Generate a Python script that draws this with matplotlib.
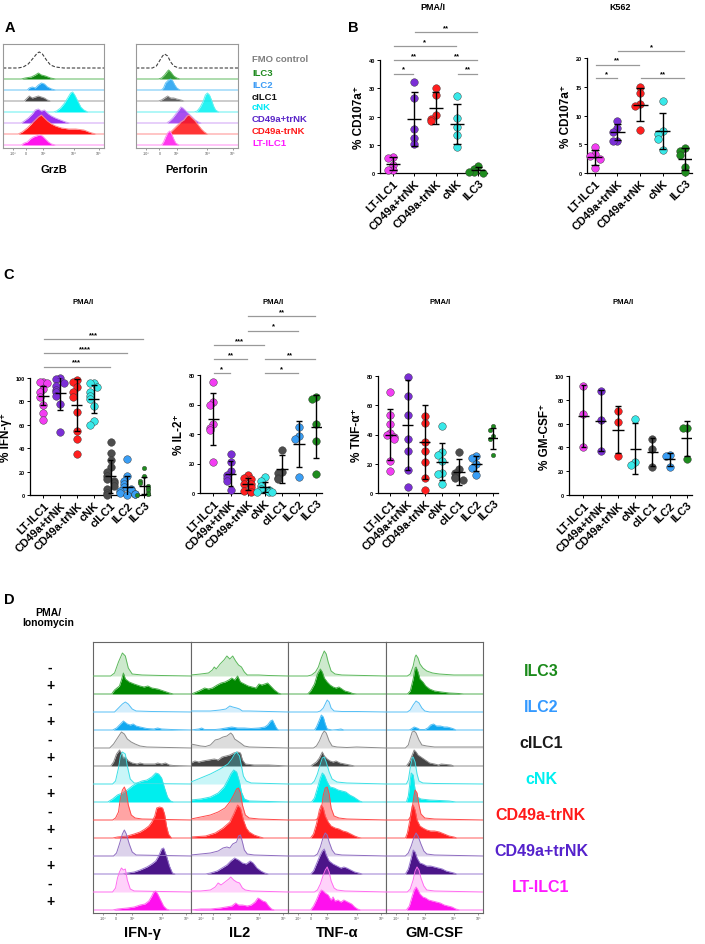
import matplotlib
matplotlib.use("Agg")
import matplotlib.pyplot as plt
import numpy as np

W, H = 705, 945

plt.rcParams["font.family"] = ["Liberation Sans", "DejaVu Sans"]
plt.rcParams["font.weight"] = "bold"
plt.rcParams["axes.labelweight"] = "bold"

# ---------------------------------------------------------------- panel A
# histogram knots: (position on display axis in %, height in px)
A_ROWS = ["FMO control", "ILC3", "ILC2", "cILC1", "cNK", "CD49a+trNK", "CD49a-trNK", "LT-ILC1"]
A_GRZB = {
    "FMO control": [(0, 0), (15, 0), (20, 1), (25, 4), (30, 10), (34, 15), (36, 16), (39, 14), (43, 8), (47, 3), (52, 1), (60, 0), (100, 0)],
    "ILC3": [(0, 0), (18, 0), (22, 1), (28, 2), (32, 4), (35, 6), (38, 4), (42, 3), (47, 1), (52, 0), (100, 0)],
    "ILC2": [(0, 0), (24, 0), (26, 2), (29, 3), (32, 2), (35, 5), (38, 7), (41, 6), (44, 3), (48, 1), (52, 0), (100, 0)],
    "cILC1": [(0, 0), (21, 0), (24, 3), (26, 5), (29, 3), (32, 4), (35, 5), (38, 4), (41, 3), (44, 1), (47, 0), (100, 0)],
    "cNK": [(0, 0), (50, 0), (53, 1), (57, 4), (61, 9), (64, 14), (67, 19), (69, 20), (71, 17), (74, 11), (77, 5), (80, 2), (84, 0), (100, 0)],
    "CD49a+trNK": [(0, 0), (18, 0), (21, 2), (25, 5), (29, 9), (32, 13), (35, 14), (38, 12), (41, 13), (45, 9), (48, 7), (52, 5), (57, 3), (62, 1), (66, 0), (100, 0)],
    "CD49a-trNK": [(0, 0), (15, 0), (19, 2), (24, 6), (28, 10), (32, 14), (35, 17), (38, 19), (41, 16), (44, 13), (48, 10), (52, 8), (58, 6), (65, 5), (72, 5), (80, 4), (85, 2), (88, 1), (92, 0), (100, 0)],
    "LT-ILC1": [(0, 0), (18, 0), (21, 2), (24, 3), (27, 6), (30, 8), (33, 9), (36, 10), (39, 9), (42, 6), (45, 3), (48, 1), (52, 0), (100, 0)],
}
A_PERFORIN = {
    "FMO control": [(0, 0), (16, 0), (20, 2), (23, 7), (26, 12), (28, 14), (31, 12), (34, 6), (37, 2), (42, 0), (100, 0)],
    "ILC3": [(0, 0), (22, 0), (25, 1), (28, 4), (31, 8), (32, 9), (34, 7), (37, 3), (40, 1), (43, 0), (100, 0)],
    "ILC2": [(0, 0), (25, 0), (27, 2), (29, 7), (32, 10), (34, 11), (36, 9), (38, 5), (40, 2), (43, 0), (100, 0)],
    "cILC1": [(0, 0), (22, 0), (25, 1), (28, 3), (31, 5), (34, 3), (37, 3), (40, 2), (44, 1), (47, 0), (100, 0)],
    "cNK": [(0, 0), (57, 0), (60, 1), (63, 5), (66, 11), (68, 17), (70, 19), (72, 17), (74, 12), (76, 6), (78, 2), (81, 0), (100, 0)],
    "CD49a+trNK": [(0, 0), (30, 0), (33, 2), (36, 5), (39, 9), (42, 13), (44, 16), (46, 15), (49, 12), (52, 9), (55, 6), (58, 3), (61, 1), (64, 0), (100, 0)],
    "CD49a-trNK": [(0, 0), (32, 0), (35, 3), (38, 6), (41, 9), (44, 12), (47, 14), (50, 18), (52, 19), (55, 16), (58, 13), (61, 9), (64, 5), (67, 2), (70, 0), (100, 0)],
    "LT-ILC1": [(0, 0), (25, 0), (27, 3), (29, 8), (31, 12), (33, 14), (35, 11), (37, 6), (39, 2), (42, 0), (100, 0)],
}
A_FILL = {"ILC3": "#0f870f", "ILC2": "#1c9ff0", "cILC1": "#454545", "cNK": "#00f2f2",
          "CD49a+trNK": "#9a30ee", "CD49a-trNK": "#ff1212", "LT-ILC1": "#ff14ec"}
A_LINE = {"ILC3": "#5cb85c", "ILC2": "#63c3f5", "cILC1": "#9a9a9a", "cNK": "#60f0f0",
          "CD49a+trNK": "#cfa0f5", "CD49a-trNK": "#ff8a8a", "LT-ILC1": "#ff8af2"}
A_LEGEND_COLORS = {"FMO control": "#7f7f7f", "ILC3": "#1e8a1e", "ILC2": "#3d9cf5", "cILC1": "#111111",
                   "cNK": "#00e8f5", "CD49a+trNK": "#5a25c8", "CD49a-trNK": "#ff1a1a", "LT-ILC1": "#ff1aff"}

# ---------------------------------------------------------------- panels B / C
B_CATS = ["LT-ILC1", "CD49a+trNK", "CD49a-trNK", "cNK", "ILC3"]
C_CATS = ["LT-ILC1", "CD49a+trNK", "CD49a-trNK", "cNK", "cILC1", "ILC2", "ILC3"]
DOT_COLORS = {"LT-ILC1": "#f23df2", "CD49a+trNK": "#7b2fd6", "CD49a-trNK": "#ff1f1f", "cNK": "#38e8e8",
              "cILC1": "#4d4d4d", "ILC2": "#3a9ef5", "ILC3": "#1e8c1e"}

B_PMA_PTS = [[5.6, 5.4, 3.0, 1.0, 1.2], [32.3, 26.4, 15.4, 12.3, 10.1], [30, 27.5, 20.5, 19, 18.5],
             [27.3, 19.5, 16.4, 13.5, 9.2], [2.6, 1.5, 0.2, 0.1, 0.3]]
B_PMA_MEAN = [3.3, 19.2, 23.0, 17.4, 0.9]
B_PMA_SD = [2.2, 9.5, 5.5, 7.0, 1.1]
B_PMA_SIG = [(0, 1, "*", 0), (3, 4, "**", 0), (0, 2, "**", 1), (2, 4, "**", 1), (0, 3, "*", 2), (1, 4, "**", 3)]

B_K562_PTS = [[4.5, 3.3, 2.9, 2.5, 0.8], [9.0, 7.8, 7.2, 5.5, 5.6], [15.0, 14.0, 12.0, 11.6, 7.4],
              [12.5, 7.3, 6.8, 6.0, 4.0], [4.3, 3.8, 3.2, 1.0, 0.1]]
B_K562_MEAN = [2.7, 7.2, 11.9, 7.3, 2.4]
B_K562_SD = [1.3, 1.4, 2.9, 3.2, 1.9]
B_K562_SIG = [(0, 1, "*", 0), (2, 4, "**", 0), (0, 2, "**", 1), (1, 4, "*", 2)]

IFN_PTS = [[97, 97, 96, 91, 88, 84, 77, 70, 64], [100, 99, 96, 93, 90, 88, 85, 78, 54],
           [98, 97, 92, 88, 84, 71, 55, 48, 35], [96, 96, 92, 88, 85, 82, 76, 63, 60],
           [45, 36, 30, 24, 20, 16, 14, 12, 10, 8, 5, 2, 0], [31, 16, 12, 9, 7, 5, 4, 3, 2, 1, 0.5, 0],
           [23, 16, 12, 10, 8, 6, 4, 2, 1, 0]]
IFN_MEAN = [85, 87, 77, 82, 16, 7, 8]
IFN_SD = [8, 14, 22, 12, 14, 9, 7]
IFN_SIG = [(0, 4, "***", 0), (0, 5, "****", 1), (0, 6, "***", 2)]

IL2_PTS = [[75, 62, 60, 47, 44, 43, 21], [26.5, 21, 15, 12, 10, 8, 2], [12, 10, 9.5, 6, 6, 4, 1.5, 1],
           [11, 8, 5, 3, 2, 1, 0.5, 0.5], [29, 14.5, 13.5, 10, 9.5], [45, 38.5, 36.5, 11], [65, 64, 47, 35, 13]]
IL2_MEAN = [50, 13, 6, 4, 16, 33, 45]
IL2_SD = [17.5, 8.5, 4, 3.5, 9.5, 15.5, 21.5]
IL2_SIG = [(0, 1, "*", 0), (3, 5, "*", 0), (0, 2, "**", 1), (3, 6, "**", 1), (0, 3, "***", 2),
           (2, 5, "*", 3), (2, 6, "**", 4)]

TNF_PTS = [[69, 53, 47, 41, 40, 38, 37, 22, 15], [79, 66, 53, 37, 29, 15.5, 4], [52.5, 48, 35, 28.5, 21, 10, 2],
           [46, 28, 26, 22, 14, 13, 6], [28, 16.5, 14, 11, 10, 9], [25, 24, 20, 17, 12], [46, 43, 39, 37, 26]]
TNF_MEAN = [40, 46.5, 35, 21.5, 14.5, 20, 37.5]
TNF_SD = [17.5, 30.5, 25.5, 12.5, 9, 5, 7.2]

GM_PTS = [[91.5, 68, 40], [87.5, 63, 37], [71, 61, 33], [64, 27.5, 25], [47, 38.5, 23.5], [33.5, 33, 23.5], [56, 56, 30]]
GM_MEAN = [66.5, 62.5, 55, 39, 36, 30, 47.5]
GM_SD = [26, 25.5, 19.5, 21.5, 11.5, 5.5, 15]

# ---------------------------------------------------------------- panel D
D_CELLS = ["ILC3", "ILC2", "cILC1", "cNK", "CD49a-trNK", "CD49a+trNK", "LT-ILC1"]
D_MARKERS = ["IFN-γ", "IL2", "TNF-α", "GM-CSF"]
# (unstimulated "-", PMA/ionomycin "+") histograms per cell type
D_IFNG = {
    "ILC3": ([(0, 0), (18, 0), (22, 3), (26, 14), (30, 23), (33, 20), (36, 8), (40, 2), (50, 1), (70, 0.5), (100, 0)],
             [(0, 0), (19, 0), (22, 4), (27, 8), (29, 14), (31, 21), (33, 15), (37, 12), (42, 10), (48, 8), (52, 7), (56, 8), (60, 6), (66, 5), (72, 3), (78, 1), (82, 0), (100, 0)]),
    "ILC2": ([(0, 0), (22, 0), (26, 4), (30, 8), (33, 10), (36, 8), (40, 3), (44, 1), (60, 0.5), (100, 0)],
             [(0, 0), (20, 0), (24, 2), (28, 6), (31, 9), (35, 6), (38, 5), (41, 6), (44, 4), (48, 3), (55, 1.5), (62, 1), (66, 2), (70, 1), (80, 0.5), (100, 0)]),
    "cILC1": ([(0, 0), (17, 0), (21, 4), (25, 10), (29, 16), (32, 14), (35, 9), (39, 6), (43, 4), (48, 2), (55, 1), (100, 0)],
              [(0, 0), (18, 0), (21, 4), (24, 12), (27, 16), (29, 13), (31, 8), (33, 9), (36, 5), (40, 3), (45, 2), (48, 3), (52, 2), (58, 2), (63, 2), (66, 3), (70, 2), (74, 3), (78, 1), (82, 0.5), (100, 0)]),
    "cNK": ([(0, 0), (20, 0), (23, 3), (26, 16), (28, 28), (30, 32), (33, 30), (35, 18), (38, 5), (42, 1), (50, 0.5), (100, 0)],
            [(0, 0), (15, 0), (20, 3), (25, 7), (30, 9), (35, 12), (40, 16), (45, 19), (50, 21), (55, 22), (60, 25), (64, 29), (67, 28), (70, 24), (73, 14), (76, 5), (79, 1), (82, 0), (100, 0)]),
    "CD49a-trNK": ([(0, 0), (20, 0), (23, 2), (26, 8), (28, 22), (30, 30), (32, 33), (34, 28), (36, 15), (39, 5), (43, 2), (50, 1), (100, 0)],
                   [(0, 0), (20, 0), (25, 1), (35, 2), (42, 4), (48, 6), (53, 9), (57, 12), (60, 16), (63, 22), (65, 30), (68, 31), (71, 30), (73, 24), (75, 12), (77, 4), (80, 0), (100, 0)]),
    "CD49a+trNK": ([(0, 0), (21, 0), (24, 3), (27, 12), (30, 22), (32, 26), (34, 22), (37, 12), (40, 4), (44, 1), (100, 0)],
                   [(0, 0), (30, 0), (35, 1), (42, 2), (48, 4), (55, 7), (60, 10), (64, 13), (67, 18), (70, 25), (72, 26), (75, 18), (78, 8), (81, 1), (84, 0), (100, 0)]),
    "LT-ILC1": ([(0, 0), (20, 0), (23, 4), (25, 14), (27, 20), (29, 24), (31, 22), (33, 23), (35, 12), (38, 3), (42, 1), (100, 0)],
                [(0, 0), (20, 0), (25, 1), (35, 2), (42, 3), (48, 5), (53, 6), (57, 9), (60, 14), (62, 18), (64, 19), (66, 16), (69, 10), (72, 4), (75, 1), (78, 0), (100, 0)]),
}
D_IL2 = {
    "ILC3": ([(0, 1), (10, 2), (18, 3), (22, 6), (24, 9), (26, 7), (30, 12), (34, 16), (37, 20), (40, 17), (43, 20), (46, 15), (49, 11), (52, 9), (55, 4), (58, 1), (70, 1), (80, 0.5), (100, 0)],
             [(0, 0), (3, 1), (8, 3), (14, 6), (18, 5), (22, 6), (27, 9), (31, 11), (35, 12), (39, 14), (42, 16), (45, 14), (48, 18), (51, 12), (55, 10), (59, 8), (63, 7), (67, 6), (70, 10), (73, 9), (76, 10), (79, 11), (82, 8), (86, 4), (90, 1), (93, 0), (100, 0)]),
    "ILC2": ([(0, 1), (20, 1), (30, 2), (36, 3), (40, 6), (43, 5), (47, 4), (50, 3), (53, 1), (60, 1), (100, 0)],
             [(0, 0), (8, 1), (11, 2), (14, 0.5), (25, 0.5), (30, 1), (36, 2), (42, 3), (48, 2), (55, 2), (62, 1.5), (70, 2), (76, 3), (79, 5), (82, 9), (84, 10), (86, 6), (88, 2), (90, 0), (100, 0)]),
    "cILC1": ([(0, 4), (5, 3), (10, 2), (15, 1.5), (20, 3), (25, 8), (29, 9), (33, 11), (37, 12), (41, 15), (43, 13), (45, 9), (48, 7), (51, 5), (55, 2), (60, 1), (100, 0)],
              [(0, 3), (4, 5), (8, 4), (12, 5), (18, 6), (24, 7), (28, 6), (32, 9), (36, 10), (40, 11), (44, 13), (48, 14), (51, 13), (53, 6), (56, 2), (65, 1), (80, 1), (100, 0)]),
    "cNK": ([(0, 2), (10, 6), (20, 10), (30, 15), (38, 20), (42, 25), (45, 30), (47, 32), (50, 28), (52, 18), (54, 8), (57, 3), (62, 1), (100, 0)],
            [(0, 2), (10, 3), (20, 5), (28, 9), (34, 15), (38, 22), (41, 28), (44, 32), (47, 30), (50, 20), (52, 10), (55, 3), (60, 1), (100, 0)]),
    "CD49a-trNK": ([(0, 1), (10, 3), (20, 5), (28, 8), (35, 12), (40, 18), (44, 25), (47, 31), (49, 32), (51, 27), (53, 15), (56, 5), (60, 2), (70, 1), (100, 0)],
                   [(0, 1), (15, 2), (25, 5), (33, 10), (40, 16), (44, 24), (48, 33), (51, 30), (54, 18), (57, 10), (60, 6), (65, 3), (71, 1), (75, 0), (100, 0)]),
    "CD49a+trNK": ([(0, 1), (10, 2), (20, 3), (28, 5), (33, 8), (37, 9), (40, 8), (43, 12), (47, 14), (49, 20), (51, 21), (53, 14), (55, 6), (58, 2), (65, 1), (100, 0)],
                   [(0, 0), (15, 0), (20, 1), (27, 3), (32, 6), (37, 9), (41, 13), (45, 16), (49, 14), (53, 11), (57, 10), (61, 13), (64, 11), (68, 6), (72, 3), (76, 1), (80, 0), (100, 0)]),
    "LT-ILC1": ([(0, 1), (10, 1), (20, 2), (25, 5), (28, 9), (31, 7), (35, 10), (39, 13), (41, 15), (44, 12), (47, 10), (50, 9), (53, 4), (56, 2), (62, 1), (100, 0)],
                [(0, 0), (10, 1), (20, 1), (30, 2), (36, 3), (42, 4), (46, 7), (49, 5), (53, 5), (58, 4), (62, 5), (66, 8), (69, 12), (71, 11), (74, 9), (77, 8), (80, 4), (83, 1), (86, 0), (100, 0)]),
}
D_TNFA = {
    "ILC3": ([(0, 0), (20, 0), (24, 1), (28, 4), (31, 9), (34, 18), (37, 25), (39, 22), (41, 14), (44, 5), (48, 2), (55, 1), (100, 0)],
             [(0, 0), (20, 0), (23, 3), (27, 10), (30, 20), (33, 25), (35, 22), (37, 16), (40, 12), (43, 9), (46, 7), (49, 6), (52, 7), (55, 5), (58, 3), (62, 2), (66, 0.5), (70, 0), (100, 0)]),
    "ILC2": ([(0, 0), (30, 0), (33, 1), (36, 4), (38, 8), (40, 12), (42, 10), (44, 4), (47, 1), (55, 0.5), (70, 0.5), (100, 0)],
             [(0, 0), (27, 0), (29, 3), (32, 10), (34, 15), (36, 13), (38, 6), (40, 1), (45, 0), (51, 0.5), (54, 1), (57, 0), (100, 0)]),
    "cILC1": ([(0, 0), (26, 0), (29, 2), (32, 7), (35, 14), (37, 17), (39, 15), (42, 7), (45, 2), (50, 1), (60, 0.5), (70, 1), (100, 0)],
              [(0, 0), (23, 0), (26, 2), (29, 4), (32, 8), (35, 14), (37, 10), (40, 7), (43, 5), (46, 4), (49, 5), (53, 3), (58, 2), (63, 1), (68, 0), (100, 0)]),
    "cNK": ([(0, 0), (24, 0), (27, 3), (30, 10), (33, 20), (35, 26), (37, 27), (39, 22), (42, 12), (45, 5), (50, 2), (60, 1), (100, 0)],
            [(0, 0), (24, 0), (27, 4), (30, 14), (33, 24), (35, 29), (37, 27), (40, 20), (43, 15), (47, 14), (51, 12), (55, 11), (59, 10), (63, 7), (67, 5), (70, 3), (73, 1), (76, 0), (100, 0)]),
    "CD49a-trNK": ([(0, 0), (28, 0), (31, 2), (34, 10), (36, 25), (38, 32), (40, 33), (42, 26), (44, 12), (47, 4), (52, 2), (60, 1), (100, 0)],
                   [(0, 0), (23, 0), (26, 4), (29, 14), (32, 28), (34, 33), (36, 30), (38, 22), (41, 16), (44, 12), (48, 10), (52, 9), (56, 7), (60, 6), (64, 4), (68, 2), (72, 0.5), (75, 0), (100, 0)]),
    "CD49a+trNK": ([(0, 0), (27, 0), (30, 2), (33, 9), (36, 19), (38, 23), (40, 21), (42, 14), (45, 6), (48, 2), (55, 1), (100, 0)],
                   [(0, 0), (23, 0), (26, 3), (29, 10), (32, 17), (35, 23), (37, 25), (39, 19), (42, 13), (46, 10), (50, 8), (54, 6), (57, 7), (60, 6), (64, 4), (68, 2), (72, 1), (76, 0), (100, 0)]),
    "LT-ILC1": ([(0, 0), (27, 0), (30, 2), (33, 8), (36, 17), (38, 22), (40, 25), (42, 20), (44, 11), (47, 4), (50, 2), (58, 1), (100, 0)],
                [(0, 0), (23, 0), (26, 4), (29, 10), (32, 17), (34, 20), (36, 19), (38, 17), (41, 15), (44, 10), (46, 13), (48, 9), (51, 10), (54, 8), (57, 10), (61, 8), (65, 6), (68, 3), (71, 1), (74, 0), (100, 0)]),
}
D_GMCSF = {
    "ILC3": ([(0, 0), (22, 0), (25, 2), (28, 10), (30, 19), (31, 21), (33, 18), (35, 12), (38, 8), (42, 5), (48, 3), (55, 2), (70, 1), (100, 1)],
             [(0, 0), (22, 0), (25, 3), (28, 15), (30, 26), (31, 27), (33, 22), (35, 15), (38, 12), (41, 8), (45, 5), (50, 3), (57, 2), (65, 1), (75, 0.5), (80, 0), (100, 0)]),
    "ILC2": ([(0, 0), (22, 0), (25, 2), (28, 7), (31, 11), (34, 9), (37, 4), (40, 1), (45, 0), (100, 0)],
             [(0, 0), (24, 0), (26, 1), (29, 3), (32, 2), (35, 0.5), (40, 0.5), (43, 2), (46, 5), (49, 6), (52, 4), (56, 4), (60, 3), (63, 3), (67, 2), (70, 1), (72, 0), (100, 0)]),
    "cILC1": ([(0, 0), (20, 0), (23, 3), (25, 10), (27, 16), (29, 17), (31, 15), (34, 8), (37, 3), (42, 2), (50, 1), (100, 1)],
              [(0, 0), (21, 0), (24, 4), (27, 11), (29, 16), (31, 14), (33, 11), (36, 9), (39, 7), (42, 5), (45, 3), (50, 2), (54, 1), (57, 2), (62, 1.5), (67, 1), (70, 0), (100, 0)]),
    "cNK": ([(0, 0), (21, 0), (23, 4), (25, 16), (27, 26), (28, 27), (30, 22), (32, 10), (34, 3), (38, 1), (50, 0.5), (100, 0)],
            [(0, 0), (21, 0), (23, 6), (25, 22), (26, 29), (28, 27), (30, 12), (32, 5), (36, 3), (45, 2), (55, 1.5), (65, 1), (72, 0), (100, 0)]),
    "CD49a-trNK": ([(0, 0), (23, 0), (25, 3), (27, 12), (29, 25), (30, 30), (32, 27), (34, 15), (36, 6), (40, 2), (50, 1), (100, 0)],
                   [(0, 0), (20, 0), (22, 5), (25, 20), (27, 32), (28, 33), (30, 28), (32, 18), (35, 12), (38, 10), (42, 8), (46, 7), (50, 7), (55, 6), (60, 4), (65, 2), (70, 1), (73, 0), (100, 0)]),
    "CD49a+trNK": ([(0, 0), (20, 0), (23, 3), (26, 10), (29, 19), (31, 23), (33, 20), (36, 12), (39, 5), (42, 2), (50, 1), (100, 0)],
                   [(0, 0), (20, 0), (23, 5), (26, 16), (28, 24), (30, 22), (32, 16), (35, 11), (38, 10), (42, 8), (46, 8), (50, 7), (54, 6), (58, 5), (62, 3), (66, 2), (70, 1), (73, 0), (100, 0)]),
    "LT-ILC1": ([(0, 0), (22, 0), (25, 3), (28, 12), (30, 21), (32, 25), (34, 22), (36, 14), (39, 6), (42, 2), (50, 1), (100, 0)],
                [(0, 0), (21, 0), (24, 4), (27, 14), (29, 20), (31, 23), (33, 20), (35, 16), (38, 13), (41, 12), (44, 10), (48, 9), (52, 8), (56, 7), (60, 5), (64, 4), (68, 3), (72, 1), (76, 0), (100, 0)]),
}
# neg fill / outline, pos fill / outline
D_STYLE = {
    "ILC3": ("#5cb85c", 0.30, "#008800", "#4fae4f"),
    "ILC2": ("#55bff5", 0.25, "#10a8f0", "#55bff5"),
    "cILC1": ("#8c8c8c", 0.30, "#444444", "#8c8c8c"),
    "cNK": ("#3ee0e6", 0.28, "#00eeee", "#3ee0e6"),
    "CD49a-trNK": ("#ff4a4a", 0.50, "#ff2020", "#ff5a5a"),
    "CD49a+trNK": ("#8e6cc0", 0.30, "#4b1589", "#9a7ad0"),
    "LT-ILC1": ("#ff6cf0", 0.30, "#ff10ee", "#ff6cf0"),
}
D_LABEL_COLORS = {"ILC3": "#1a8a1a", "ILC2": "#3399ff", "cILC1": "#1a1a1a", "cNK": "#00f0f0",
                  "CD49a-trNK": "#ff1a1a", "CD49a+trNK": "#5522cc", "LT-ILC1": "#ff1aff"}

FLOW_TICKS = [10, 23, 40, 70, 95]
FLOW_TICKLABELS = ["-10³", "0", "10³", "10⁴", "10⁵"]


def px_axes(fig, x0, y0, x1, y1):
    return fig.add_axes([x0 / W, 1 - y1 / H, (x1 - x0) / W, (y1 - y0) / H])


def fig_text(fig, x, y, s, **kw):
    fig.text(x / W, 1 - y / H, s, **kw)


def flow_axis(ax, ymax, edge="0.45"):
    ax.set_xlim(0, 100)
    ax.set_ylim(0, ymax)
    ax.set_yticks([])
    ax.set_xticks(FLOW_TICKS)
    ax.set_xticklabels(FLOW_TICKLABELS, fontsize=2.6, color="0.3", fontweight="normal")
    minor = [13, 16, 19, 27, 31, 35]
    minor += [40 + 30 * np.log10(k) for k in range(2, 10)]
    minor += [70 + 25 * np.log10(k) for k in range(2, 10)]
    ax.set_xticks(minor, minor=True)
    ax.tick_params(axis="x", which="major", length=1.6, width=0.4, pad=0.6, colors="0.3")
    ax.tick_params(axis="x", which="minor", length=0.9, width=0.3, colors="0.3")
    for s in ax.spines.values():
        s.set_color(edge)
        s.set_linewidth(0.8)


def draw_hist(ax, knots, base, fill, edge, alpha=1.0, z=1.0, ls="-", edge_z=None, lw=0.7):
    x = np.array([k[0] for k in knots], float)
    h = np.array([k[1] for k in knots], float)
    if fill is not None:
        ax.fill_between(x, base, base + h, color=fill, alpha=alpha, lw=0, zorder=z)
    ax.plot(x, base + h, color=edge, lw=lw, ls=ls, zorder=z + 0.05 if edge_z is None else edge_z)


def swarm_offsets(vals, tol, step=0.22):
    pattern = [0, -1, 1, -2, 2]
    offs, placed = [], []
    for v in vals:
        n = sum(1 for p in placed if abs(p - v) < tol)
        offs.append(pattern[n % len(pattern)] * step)
        placed.append(v)
    return offs


def dot_plot(ax, cats, pts, means, sds, ymax, yticks, ylabel, xlim, small=()):
    for i, (cat, vals, m, s) in enumerate(zip(cats, pts, means, sds)):
        offs = swarm_offsets(vals, tol=ymax * 0.045)
        size = 10 if cat in small else 30
        ax.scatter(np.array(offs) + i, vals, s=size, color=DOT_COLORS[cat], edgecolors="#333333",
                   linewidths=0.3, zorder=3, clip_on=False)
        ax.vlines(i, m - s, m + s, color="k", lw=1.0, zorder=4)
        ax.hlines([m - s, m + s], i - 0.17, i + 0.17, color="k", lw=1.0, zorder=4)
        ax.hlines(m, i - 0.33, i + 0.33, color="k", lw=1.0, zorder=4)
    ax.set_xlim(*xlim)
    ax.set_ylim(0, ymax)
    ax.set_yticks(yticks)
    ax.spines[["top", "right"]].set_visible(False)
    for s in ("left", "bottom"):
        ax.spines[s].set_linewidth(0.9)
    ax.tick_params(axis="y", labelsize=4, width=0.7, length=2.5, pad=1)
    ax.set_xticks(range(len(cats)))
    ax.set_xticklabels(cats, rotation=45, ha="right", rotation_mode="anchor", fontsize=8, fontweight="bold")
    ax.tick_params(axis="x", length=2.5, width=0.7, pad=1)
    ax.set_ylabel(ylabel, fontsize=8.5, fontweight="bold", labelpad=3)


def sig_bars(ax, comps, ymax, base, step):
    for i, j, label, level in comps:
        y = ymax * (base + step * level)
        ax.plot([i + 0.04, j - 0.04], [y, y], color="0.6", lw=0.9, clip_on=False)
        ax.text((i + j) / 2, y + ymax * 0.008, label, ha="center", va="bottom", fontsize=5.5,
                fontweight="bold", clip_on=False)


fig = plt.figure(figsize=(W / 100, H / 100), dpi=100, facecolor="white")

# ---------------------------------------------------------------- A
fig_text(fig, 10, 28, "A", fontsize=10.5, fontweight="bold", va="center", ha="center")
A_TOP, A_BOT = 45, 149
for data, (x0, x1), name, falpha in ((A_GRZB, (3, 104), "GrzB", 1.0), (A_PERFORIN, (136, 238), "Perforin", 0.85)):
    ax = px_axes(fig, x0, A_TOP, x1, A_BOT)
    flow_axis(ax, A_BOT - A_TOP, edge="0.6")
    for k, row in enumerate(A_ROWS):
        base = A_BOT - (69 + 11 * k)
        if row == "FMO control":
            draw_hist(ax, data[row], base, None, "0.25", ls=(0, (3, 1.6)), lw=0.8, z=1)
        else:
            draw_hist(ax, data[row], base, A_FILL[row], A_LINE[row], alpha=falpha, z=1 + k * 0.1)
    fig_text(fig, (x0 + x1) / 2, 170, name, fontsize=8, fontweight="bold", ha="center", va="center")
for k, row in enumerate(A_ROWS):
    fig_text(fig, 252, [60, 73, 86, 98, 108, 119, 132, 144][k], row, fontsize=6.8, fontweight="bold",
             color=A_LEGEND_COLORS[row], ha="left", va="center")

# ---------------------------------------------------------------- B
fig_text(fig, 353, 28, "B", fontsize=10.5, fontweight="bold", va="center", ha="center")
ax = px_axes(fig, 380, 61, 487, 174)
dot_plot(ax, B_CATS, B_PMA_PTS, B_PMA_MEAN, B_PMA_SD, 40, [0, 10, 20, 30, 40], "% CD107a⁺", (-0.61, 4.41))
sig_bars(ax, B_PMA_SIG, 40, 0.88, 0.122)
fig_text(fig, 433, 8, "PMA/I", fontsize=6.5, fontweight="bold", ha="center", va="center")

ax = px_axes(fig, 587, 59, 692, 174)
dot_plot(ax, B_CATS, B_K562_PTS, B_K562_MEAN, B_K562_SD, 20, [0, 5, 10, 15, 20], "% CD107a⁺", (-0.35, 4.3))
sig_bars(ax, B_K562_SIG, 20, 0.825, 0.118)
fig_text(fig, 620, 8, "K562", fontsize=6.5, fontweight="bold", ha="center", va="center")

# ---------------------------------------------------------------- C
fig_text(fig, 9, 275, "C", fontsize=10.5, fontweight="bold", va="center", ha="center")
c_specs = [
    ((30, 379, 150, 496), IFN_PTS, IFN_MEAN, IFN_SD, 100, range(0, 101, 20), "% IFN-γ⁺", (-0.79, 6.35), 83),
    ((200, 376, 322, 494), IL2_PTS, IL2_MEAN, IL2_SD, 80, range(0, 81, 20), "% IL-2⁺", (-0.78, 6.34), 273),
    ((378, 377, 498, 494), TNF_PTS, TNF_MEAN, TNF_SD, 80, range(0, 81, 20), "% TNF-α⁺", (-0.72, 6.27), 440),
    ((569, 377, 692, 496), GM_PTS, GM_MEAN, GM_SD, 100, range(0, 101, 20), "% GM-CSF⁺", (-0.84, 6.29), 623),
]
c_axes = []
for (box, pts, mean, sd, ymax, yt, lab, xl, tx) in c_specs:
    ax = px_axes(fig, *box)
    small = ("ILC3",) if lab in ("% IFN-γ⁺", "% TNF-α⁺") else ()
    dot_plot(ax, C_CATS, pts, mean, sd, ymax, list(yt), lab, xl, small=small)
    fig_text(fig, tx, 302, "PMA/I", fontsize=5.5, fontweight="bold", ha="center", va="center")
    c_axes.append(ax)
sig_bars(c_axes[0], IFN_SIG, 100, 1.097, 0.118)
sig_bars(c_axes[1], IL2_SIG, 80, 1.016, 0.12)

# ---------------------------------------------------------------- D
fig_text(fig, 9, 600, "D", fontsize=10.5, fontweight="bold", va="center", ha="center")
fig_text(fig, 48, 618, "PMA/\nIonomycin", fontsize=7.5, fontweight="bold", ha="center", va="center",
         linespacing=1.1)
D_TOP, D_BOT = 643, 914
col_edges = [93, 191, 288, 386, 483]
for c, data in enumerate((D_IFNG, D_IL2, D_TNFA, D_GMCSF)):
    ax = px_axes(fig, col_edges[c], D_TOP, col_edges[c + 1], D_BOT)
    flow_axis(ax, D_BOT - D_TOP, edge="0.4")
    for r, cell in enumerate(D_CELLS):
        neg, pos = data[cell]
        nedge, nalpha, pfill, pedge = D_STYLE[cell]
        kn, kp = 2 * r, 2 * r + 1
        draw_hist(ax, neg, D_BOT - (677 + 18 * kn), nedge, nedge, alpha=nalpha, z=1 + kn * 0.1, edge_z=5)
        draw_hist(ax, pos, D_BOT - (677 + 18 * kp), pfill, pedge, z=1 + kp * 0.1)
    fig_text(fig, (col_edges[c] + col_edges[c + 1]) / 2, 933, D_MARKERS[c], fontsize=10.5,
             fontweight="bold", ha="center", va="center")

for k in range(14):
    fig_text(fig, 50, 677 + 18 * k - 9, "-" if k % 2 == 0 else "+", fontsize=10, fontweight="bold",
             ha="center", va="center")
for r, cell in enumerate(D_CELLS):
    y = (677 + 18 * 2 * r + 677 + 18 * (2 * r + 1)) / 2 - 14
    fig_text(fig, 541, y, cell, fontsize=11.5, fontweight="bold", color=D_LABEL_COLORS[cell],
             ha="center", va="center")

fig.savefig("out.png", dpi=100, facecolor="white")
